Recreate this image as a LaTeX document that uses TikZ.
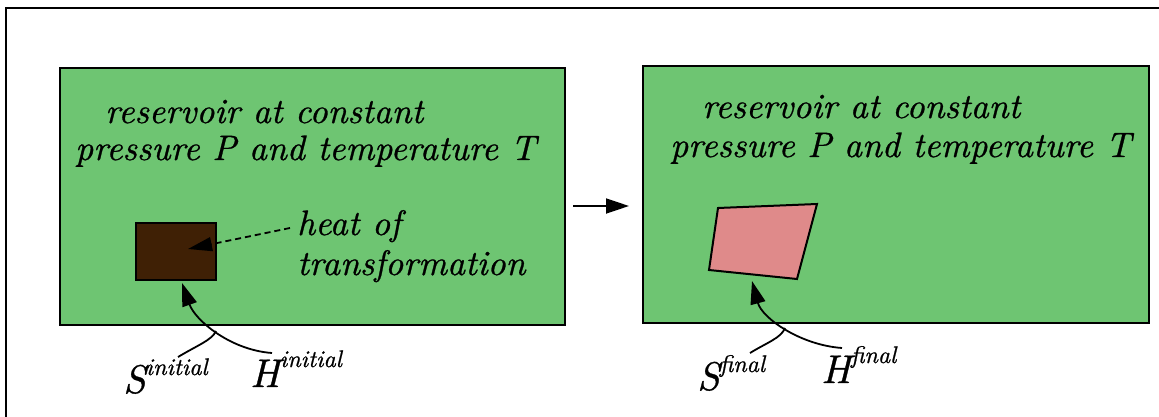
\documentclass[tikz,border=0pt]{standalone}
\usepackage{fontspec}
\newfontfamily\lmit{lmroman10-italic.otf}[FakeBold=0.8]
\usetikzlibrary{arrows.meta}
\definecolor{resgreen}{RGB}{110,197,114}
\definecolor{brownbox}{RGB}{63,32,5}
\definecolor{pinkbox}{RGB}{223,138,138}
\tikzset{
  reservoir/.style={draw=black, line width=2pt, fill=resgreen, minimum width=505pt, minimum height=257pt, inner sep=0pt},
  bigtext/.style={anchor=base west, inner sep=0pt, font=\lmit\fontsize{35.3}{40}\selectfont},
  heattext/.style={anchor=base west, inner sep=0pt, font=\lmit\fontsize{35.3}{40}\selectfont},
  symlabel/.style={anchor=base west, inner sep=0pt, font=\lmit\fontsize{40}{40}\selectfont},
  conn/.style={line width=1.8pt, -{Triangle[length=23pt,width=15pt]}},
  plainconn/.style={line width=1.8pt},
  dashconn/.style={line width=1.8pt, dash pattern=on 6pt off 4pt, -{Triangle[length=24pt,width=14pt]}},
}
\newcommand{\supt}[2][18pt]{\raisebox{#1}{\fontsize{24}{24}\selectfont #2}}
\begin{document}
\begin{tikzpicture}[x=1pt,y=-1pt]
\useasboundingbox (0,0) rectangle (1159,417);
% frame
\draw[line width=1.8pt] (6,417) -- (6,8) -- (1159,8);

% reservoirs
\node[reservoir] (lbox) at (312.5,196.5) {};
\node[reservoir, minimum width=506pt] (rbox) at (896,194.5) {};

% reservoir texts
\node[bigtext] (l1) at (105,123) {reservoir at constant};
\node[bigtext] (l2) at (75,160) {pressure P and temperature T};
\node[bigtext] (r1) at (702,118) {reservoir at constant};
\node[bigtext] (r2) at (670,157) {pressure P and temperature T};

% middle arrow
\draw[conn] ([shift={(7,9.5)}]lbox.east) -- ([shift={(-13,11.5)}]rbox.west);

% initial system
\node[draw=black, line width=2pt, fill=brownbox, minimum width=80pt, minimum height=57pt, inner sep=0pt] (sys) at (176,251.5) {};
\node[heattext] (heat1) at (297,235) {heat of};
\node[heattext] (heat2) at (297,275) {transformation};
\coordinate (heatstart) at (290,228);
\coordinate (heattip) at (188,249);
\draw[dashconn] (heatstart) -- (heattip);

% final system
\coordinate (q1) at (718,208);
\coordinate (q2) at (817,204);
\coordinate (q3) at (797,279);
\coordinate (q4) at (709,270);
\draw[line width=2pt, fill=pinkbox, line join=miter] (q1) -- (q2) -- (q3) -- (q4) -- cycle;

% labels
\node[symlabel] (Si) at (123,393) {S\supt{initial}};
\node[symlabel] (Hi) at (250,387) {H\supt[20pt]{initial}};
\node[symlabel] (Sf) at (697,390) {S\supt{final}};
\node[symlabel] (Hf) at (821,383) {H\supt[20pt]{final}};

% left connectors
\coordinate (hiend) at (272,353);
\coordinate (siend) at (178,357);
\coordinate (ljunc) at (216,331);
\coordinate (ltip) at (182,283);
\draw[conn] (hiend) .. controls (230,350) and (195,320) .. (ltip);
\draw[plainconn] (siend) .. controls (198,345) and (212,340) .. (ljunc);

% right connectors
\coordinate (hfend) at (842,348);
\coordinate (sfend) at (750,353);
\coordinate (rjunc) at (785,328);
\coordinate (rtip) at (752,281);
\draw[conn] (hfend) .. controls (800,345) and (762,318) .. (rtip);
\draw[plainconn] (sfend) .. controls (768,342) and (781,338) .. (rjunc);
\end{tikzpicture}
\end{document}
